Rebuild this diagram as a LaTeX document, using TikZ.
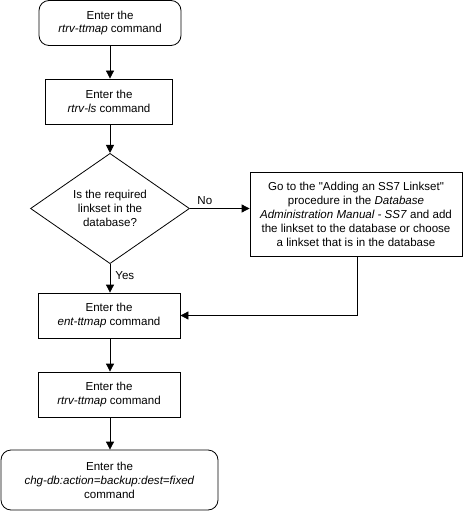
\documentclass[tikz,border=0pt]{standalone}
\usepackage{fontspec}
\setmainfont{Liberation Sans}[Ligatures=TeXOff]
\usetikzlibrary{shapes.geometric,arrows.meta}
\begin{document}
\begin{tikzpicture}[x=1bp,y=-1bp,
  every node/.style={font=\fontsize{11.6}{14}\selectfont, align=center, inner sep=0pt},
  box/.style={draw, line width=0.8bp, minimum width=142bp, minimum height=45bp},
  term/.style={box, rounded corners=10bp},
  dec/.style={draw, line width=0.8bp, diamond, minimum width=159bp, minimum height=103bp},
  arr/.style={line width=0.8bp, -{Triangle[length=8bp,width=8bp]}},
  lbl/.style={font=\fontsize{11.6}{13}\selectfont}]
\useasboundingbox (0,0) rectangle (464,511);
\node[term] (start) at (110,23) {Enter the\\\textit{rtrv-ttmap} command};
\node[box, minimum width=127bp] (ls) at (109,101.5) {Enter the\\\textit{rtrv-ls} command};
\node[dec] (q) at (110,208.5) {Is the required\\linkset in the\\database?};
\node[box, minimum width=212bp, minimum height=84bp] (add) at (356,214) {Go to the "Adding an SS7 Linkset"\\procedure in the \textit{Database}\\\textit{Administration Manual - SS7} and add\\the linkset to the database or choose\\a linkset that is in the database};
\node[box] (ent) at (109,315.5) {Enter the\\\textit{ent-ttmap} command};
\node[box] (rt) at (109,394.5) {Enter the\\\textit{rtrv-ttmap} command};
\node[term, minimum width=217bp, minimum height=60bp] (chg) at (109.5,480) {Enter the\\\textit{chg-db:action=backup:dest=fixed}\\command};
\draw[arr] (start.south -| 110,0) -- (ls.north -| 110,0);
\draw[arr] (ls.south -| 110,0) -- (q.north);
\draw[arr] (q.east) -- node[lbl, above, pos=0.25, yshift=3bp] {No} (add.west |- q.east);
\draw[arr] (q.south) -- node[lbl, right, xshift=5bp, yshift=3bp] {Yes} (ent.north -| 110,0);
\draw[arr] (add.south -| 357,0) |- (ent.east);
\draw[arr] (ent.south -| 110,0) -- (rt.north -| 110,0);
\draw[arr] (rt.south -| 110,0) -- (chg.north -| 110,0);
\end{tikzpicture}
\end{document}
